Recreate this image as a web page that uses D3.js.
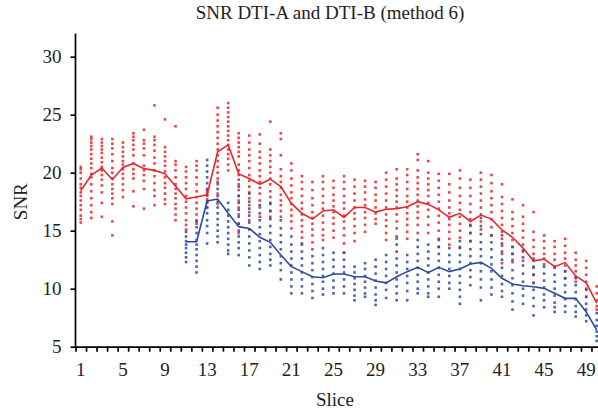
<!DOCTYPE html>
<meta charset="utf-8">
<title>SNR DTI-A and DTI-B (method 6)</title>
<script src="https://d3js.org/d3.v7.min.js"></script>
<style>
  body { margin: 0; background: #fff; }
  text { font-family: 'Liberation Serif', 'DejaVu Serif', serif; fill: #222; }
  .axis path, .axis line { stroke: #000; stroke-width: 1.7px; }
  .axis text { font-size: 19px; font-family: 'Liberation Serif', serif; fill: #222; }
  text.title { font-size: 19px; text-anchor: middle; }
  text.label { font-size: 19px; text-anchor: middle; }
</style>
<div id="my_dataviz"></div>
<script>
// slices 1..50
var slices = d3.range(1, 51);
var xTickLabels = [1, 5, 9, 13, 17, 21, 25, 29, 33, 37, 41, 45, 49];
var yTicks = [5, 10, 15, 20, 25, 30];

// mean line DTI-A (red)
var meanA = [18.45, 19.8, 20.4, 19.4, 20.45, 20.8, 20.35, 20.2, 19.9, 18.85,
  17.75, 17.9, 18.1, 21.8, 22.4, 19.9, 19.5, 19.0, 19.45, 18.8,
  17.35, 16.5, 16.0, 16.7, 16.8, 16.15, 17.0, 17.0, 16.6, 16.85,
  16.9, 17.07, 17.5, 17.27, 16.8, 16.15, 16.5, 15.8, 16.35, 16.0,
  15.06, 14.43, 13.5, 12.4, 12.55, 11.9, 12.25, 11.1, 10.5, 8.75];

// mean line DTI-B (blue), starts at slice 11
var meanB = [null, null, null, null, null, null, null, null, null, null,
  14.05, 14.05, 17.56, 17.73, 16.5, 15.35, 15.2, 14.43, 14.0, 12.9,
  11.9, 11.47, 11.03, 10.95, 11.27, 11.27, 11.03, 11.03, 10.66, 10.5,
  11.03, 11.47, 11.84, 11.38, 11.84, 11.47, 11.7, 12.13, 12.27, 11.75,
  10.9, 10.4, 10.26, 10.17, 10.03, 9.6, 9.17, 9.17, 8.0, 6.44];

// individual subjects DTI-A (red dots), one list per slice
var dotsA = [
  [20.5, 20.3, 20.0, 19.5, 19.0, 18.7, 18.3, 18.0, 17.6, 17.2, 16.8, 16.3, 16.0, 15.7],
  [23.1, 22.9, 22.6, 22.3, 22.0, 21.6, 21.2, 20.8, 20.4, 19.9, 19.6, 19.0, 18.4, 17.8, 17.2, 16.6, 16.1],
  [22.9, 22.6, 22.3, 22.0, 21.7, 21.3, 20.9, 20.5, 20.2, 19.8, 19.4, 18.9, 18.3, 17.4, 16.2],
  [22.9, 22.5, 22.1, 21.6, 21.0, 20.4, 20.0, 19.5, 19.0, 18.6, 18.2, 17.8, 17.3, 15.8, 14.6],
  [22.6, 22.2, 21.8, 21.4, 21.0, 20.7, 20.3, 19.9, 19.5, 19.0, 18.5, 17.9],
  [23.4, 23.1, 22.8, 22.4, 22.0, 21.5, 20.8, 20.3, 19.9, 19.5, 18.4, 17.1],
  [23.7, 22.8, 22.5, 22.1, 21.5, 20.6, 20.2, 19.8, 19.3, 18.6, 16.9],
  [25.8, 23.1, 22.8, 22.4, 21.9, 21.3, 20.8, 20.2, 19.7, 19.1, 18.5, 18.0, 17.2],
  [24.6, 22.2, 21.8, 21.4, 21.0, 20.6, 20.1, 19.6, 19.1, 18.7, 18.2, 17.7, 17.3],
  [24.0, 21.0, 20.7, 20.2, 19.6, 19.0, 18.6, 18.2, 17.8, 17.3, 16.9, 16.4, 15.9],
  [20.5, 20.1, 19.6, 19.1, 18.6, 18.0, 17.5, 17.0, 16.5, 15.9, 15.5, 15.1],
  [21.0, 20.6, 20.2, 19.6, 19.0, 18.4, 17.9, 17.4, 16.9, 16.4, 15.9, 15.6],
  [18.5, 18.3, 18.0, 17.7, 17.4, 17.0],
  [25.6, 25.0, 24.5, 24.0, 23.5, 23.0, 22.5, 22.0, 21.5, 21.0, 20.5, 20.0, 19.5, 19.0, 18.2, 17.3],
  [26.0, 25.6, 25.2, 24.8, 24.4, 24.0, 23.6, 23.2, 22.8, 22.4, 22.0, 21.6, 21.2, 20.7, 20.2],
  [23.4, 23.0, 22.6, 22.2, 21.8, 21.4, 20.7, 20.2, 19.8, 19.4, 19.0, 18.5, 18.0, 17.6, 17.0, 16.4, 15.6, 14.8],
  [23.2, 22.6, 22.0, 21.5, 21.0, 20.4, 19.8, 19.3, 18.8, 18.3, 17.8, 17.2, 16.6, 15.9],
  [23.3, 22.5, 21.8, 21.3, 20.8, 20.2, 19.7, 19.2, 18.7, 18.2, 17.6, 17.0, 16.2],
  [24.4, 22.0, 21.5, 21.0, 20.5, 20.0, 19.5, 19.0, 18.4, 17.9, 17.3, 16.7, 16.2],
  [23.4, 22.9, 21.5, 20.3, 19.7, 19.2, 18.7, 18.1, 17.6, 17.2, 16.7, 16.2],
  [20.8, 20.2, 19.5, 18.9, 18.3, 17.8, 17.3, 16.8, 16.3, 15.8, 15.2],
  [19.7, 19.2, 18.6, 18.0, 17.4, 16.9, 16.4, 15.9, 15.4, 14.9, 14.4, 13.9],
  [19.2, 18.5, 17.8, 17.2, 16.6, 16.1, 15.6, 15.1, 14.6, 14.0, 13.4],
  [19.7, 19.2, 18.6, 18.0, 17.4, 16.9, 16.3, 15.7, 15.1, 14.6, 14.2],
  [19.3, 18.7, 18.1, 17.6, 17.1, 16.6, 16.1, 15.6, 15.0, 14.4],
  [19.7, 19.2, 18.6, 18.0, 17.4, 16.9, 16.3, 15.8, 15.2, 14.6, 13.9, 13.1],
  [19.4, 18.8, 18.2, 17.6, 17.0, 16.5, 16.0, 15.4, 14.8, 14.1],
  [19.3, 18.8, 18.3, 17.7, 17.2, 16.6, 16.1, 15.5, 14.9],
  [19.2, 18.7, 18.1, 17.6, 17.0, 16.5, 16.0, 15.6],
  [20.0, 19.4, 18.8, 18.2, 17.6, 17.0, 16.4, 15.9, 15.4, 14.8, 14.2],
  [20.3, 19.5, 19.0, 18.5, 18.0, 17.5, 17.0, 16.4, 15.8, 15.2, 14.3],
  [20.3, 19.8, 19.2, 18.6, 18.0, 17.5, 17.0, 16.5, 16.0, 15.5, 14.9, 14.3],
  [21.6, 21.1, 20.2, 19.6, 19.1, 18.6, 18.1, 17.6, 17.1, 16.6, 16.1, 15.5, 14.8],
  [21.0, 20.0, 19.5, 19.0, 18.5, 18.0, 17.4, 16.8, 16.2, 15.5, 14.8],
  [19.9, 19.3, 18.7, 18.1, 17.5, 16.9, 16.3, 15.7, 15.0, 14.3, 13.6],
  [19.9, 19.0, 18.3, 17.6, 17.0, 16.5, 16.0, 15.5, 14.9, 14.3, 13.8],
  [20.2, 19.5, 18.7, 18.0, 17.4, 16.8, 16.2, 15.6, 15.0, 14.4, 13.6],
  [19.4, 18.7, 18.0, 17.3, 16.6, 16.0, 15.4, 14.8, 14.1],
  [20.0, 19.4, 18.8, 18.2, 17.6, 17.0, 16.4, 15.8, 15.1],
  [19.8, 19.1, 18.4, 17.8, 17.2, 16.6, 16.0, 15.3, 14.6],
  [19.0, 17.9, 17.3, 16.7, 16.1, 15.5, 14.9, 14.3, 13.7, 13.0, 12.2],
  [17.7, 16.6, 16.0, 15.4, 14.8, 14.2, 13.6, 13.0, 12.5],
  [17.2, 16.2, 15.6, 15.0, 14.4, 13.8, 13.2, 12.4],
  [16.6, 14.9, 14.2, 13.6, 13.0, 12.4, 11.8, 11.2, 10.5],
  [14.6, 14.1, 13.5, 13.0, 12.6, 12.1],
  [14.1, 13.6, 13.0, 12.5, 11.9],
  [14.3, 13.7, 13.1, 12.6, 12.0, 11.5, 10.9],
  [13.1, 12.5, 12.0, 11.5, 11.0, 10.6],
  [12.4, 11.8, 11.2, 10.6, 10.0, 9.3],
  [10.2, 9.6, 9.0, 8.5, 8.2]
];

// individual subjects DTI-B (blue dots)
var dotsB = [
  [], [], [], [], [], [], [], [], [], [],
  [14.9, 14.5, 14.1, 13.8, 13.5, 13.1, 12.7, 12.3],
  [15.8, 15.3, 14.8, 14.2, 13.8, 13.4, 12.9, 12.4, 11.9, 11.4],
  [21.1, 20.6, 20.1, 19.6, 19.1, 18.6, 18.1, 17.5, 17.0, 16.5, 15.9, 15.4, 14.8, 13.9],
  [19.2, 18.6, 18.0, 17.5, 17.0, 16.5, 16.0, 15.5, 15.0, 14.5, 14.0],
  [17.4, 16.8, 16.3, 15.8, 15.3, 14.8, 14.3, 13.8, 13.3, 13.0],
  [18.8, 18.0, 17.4, 16.8, 16.2, 15.6, 15.0, 14.5, 14.0, 13.5, 12.9],
  [18.2, 17.5, 16.9, 16.3, 15.7, 15.1, 14.5, 13.9, 13.3, 12.7, 12.0],
  [17.2, 16.5, 15.9, 15.3, 14.7, 14.1, 13.5, 12.9, 12.3, 11.7],
  [17.4, 16.7, 16.0, 15.4, 14.8, 14.2, 13.6, 13.0, 12.5, 12.0],
  [15.9, 15.2, 14.6, 14.0, 13.4, 12.8, 12.2, 11.6, 10.8],
  [14.5, 13.8, 13.2, 12.6, 12.0, 11.4, 10.8, 10.2, 9.6],
  [13.8, 13.2, 12.6, 12.0, 11.4, 10.8, 10.2, 9.6],
  [12.8, 12.2, 11.6, 11.0, 10.4, 9.8, 9.2],
  [13.5, 12.9, 12.3, 11.7, 11.1, 10.6, 10.0, 9.5],
  [13.1, 12.5, 11.9, 11.3, 10.7, 10.1, 9.6],
  [13.1, 12.5, 11.9, 11.4, 10.8, 10.2, 9.6],
  [11.9, 11.4, 10.9, 10.4, 9.9, 9.4, 9.0],
  [12.2, 11.7, 11.1, 10.6, 10.1, 9.6, 9.3],
  [12.5, 11.9, 11.3, 10.7, 10.1, 9.5, 9.0, 8.6],
  [12.9, 12.3, 11.7, 11.1, 10.5, 9.9, 9.2],
  [14.5, 13.8, 13.2, 12.6, 12.0, 11.4, 10.8, 10.2, 9.6, 9.0],
  [12.9, 12.3, 11.7, 11.1, 10.5, 9.8, 9.0],
  [14.2, 13.6, 13.0, 12.4, 11.8, 11.2, 10.6, 10.0, 9.6],
  [13.8, 13.2, 12.6, 12.0, 11.4, 10.8, 10.2, 9.6, 9.3],
  [14.2, 13.6, 13.0, 12.4, 11.8, 11.2, 10.6, 10.0, 9.3],
  [13.5, 12.9, 12.3, 11.7, 11.1, 10.5, 10.0],
  [14.1, 13.5, 12.9, 12.3, 11.7, 11.1, 10.5, 9.9, 9.3, 8.7],
  [15.5, 14.8, 14.1, 13.4, 12.8, 12.2, 11.6, 11.0, 10.3],
  [16.1, 15.4, 14.7, 14.0, 13.4, 12.8, 12.2, 11.5, 10.8, 10.1, 9.0],
  [14.6, 14.0, 13.4, 12.7, 12.1, 11.5, 10.8, 10.1, 9.5],
  [14.6, 13.9, 13.2, 12.5, 11.8, 11.1, 10.4, 9.8, 9.3],
  [13.6, 13.0, 12.3, 11.6, 10.9, 10.3, 9.6, 8.9, 8.2],
  [13.3, 12.7, 12.0, 11.3, 10.6, 10.0, 9.4, 8.7],
  [12.6, 11.9, 11.2, 10.5, 9.9, 9.2, 8.5, 7.7],
  [11.9, 11.3, 10.7, 10.1, 9.5, 9.0, 8.4],
  [11.8, 11.2, 10.6, 10.0, 9.4, 8.8, 8.4, 8.0],
  [11.5, 10.9, 10.3, 9.7, 9.1, 8.5, 8.0],
  [10.9, 10.3, 9.7, 9.1, 8.5, 8.0, 7.6],
  [9.9, 9.3, 8.7, 8.2, 7.7, 7.2],
  [7.9, 7.3, 6.8, 6.3, 5.9, 5.5]
];

var red = "#e8262d", blue = "#2d4b9d";

var W = 598, H = 414;
var svg = d3.select("#my_dataviz")
  .append("svg")
    .attr("width", W)
    .attr("height", H);

// slice bands: slice 1 centred at ~80.5, slice 49 at ~586
var x = d3.scaleLinear()
  .domain([0.5, 50.5])
  .range([75.5, 602]);

var y = d3.scaleLinear()
  .domain([5, 32])
  .range([346.7, 33.5]);

// flatten dots
var ptsA = [], ptsB = [];
slices.forEach(function(s, i) {
  dotsA[i].forEach(function(v) { ptsA.push({slice: s, v: v}); });
  dotsB[i].forEach(function(v) { ptsB.push({slice: s, v: v}); });
});

var ds = 2.6;
svg.append("g").selectAll("rect")
  .data(ptsA)
  .enter().append("rect")
    .attr("x", function(d) { return x(d.slice) - ds / 2; })
    .attr("y", function(d) { return y(d.v) - ds / 2; })
    .attr("width", ds)
    .attr("height", ds)
    .attr("fill", red)
    .attr("opacity", 0.85);

svg.append("g").selectAll("rect")
  .data(ptsB)
  .enter().append("rect")
    .attr("x", function(d) { return x(d.slice) - ds / 2; })
    .attr("y", function(d) { return y(d.v) - ds / 2; })
    .attr("width", ds)
    .attr("height", ds)
    .attr("fill", blue)
    .attr("opacity", 0.85);

var meanLine = d3.line()
  .defined(function(d) { return d != null; })
  .x(function(d, i) { return x(slices[i]); })
  .y(function(d) { return y(d); });

svg.append("path")
  .datum(meanB)
  .attr("d", meanLine)
  .attr("fill", "none")
  .attr("stroke", blue)
  .attr("stroke-width", 1.6);

svg.append("path")
  .datum(meanA)
  .attr("d", meanLine)
  .attr("fill", "none")
  .attr("stroke", red)
  .attr("stroke-width", 1.6);

// Y axis
var yAxis = svg.append("g")
  .attr("class", "axis")
  .attr("transform", "translate(" + x(0.5) + ",0)")
  .call(d3.axisLeft(y).tickValues(yTicks).tickSize(5).tickPadding(9).tickSizeOuter(0));
yAxis.select(".domain").attr("d", "M0," + y(32) + "V" + y(5));

// X axis: tick marks at slice boundaries, labels every 4th slice
var bounds = slices.map(function(s) { return s + 0.5; });
bounds.unshift(0.5);
svg.append("g")
  .attr("class", "axis")
  .attr("transform", "translate(0," + y(5) + ")")
  .call(d3.axisBottom(x).tickValues(bounds).tickSize(5).tickFormat("").tickSizeOuter(0));

svg.append("g")
  .attr("class", "axis")
  .selectAll("text")
  .data(xTickLabels)
  .enter().append("text")
    .attr("x", function(d) { return x(d); })
    .attr("y", y(5) + 29)
    .attr("text-anchor", "middle")
    .text(function(d) { return d; });

svg.append("text")
  .attr("class", "title")
  .attr("x", 330)
  .attr("y", 19)
  .text("SNR DTI-A and DTI-B (method 6)");

svg.append("text")
  .attr("class", "label")
  .attr("transform", "translate(27," + y(17.5) + ")rotate(-90)")
  .text("SNR");

svg.append("text")
  .attr("class", "label")
  .attr("x", 335)
  .attr("y", 406)
  .text("Slice");
</script>
